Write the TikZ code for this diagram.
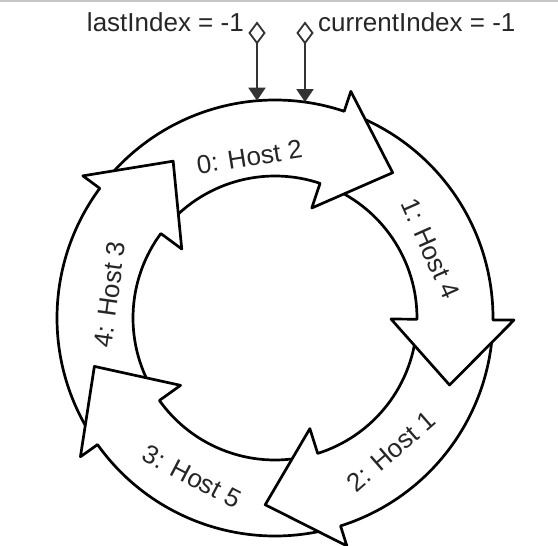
\documentclass[tikz,border=0pt]{standalone}
\usepackage{fontspec}
\setmainfont{Liberation Sans}
\usetikzlibrary{arrows.meta}
\begin{document}
\begin{tikzpicture}[x=1pt,y=1pt, line join=round, line cap=round,
  ring/.style={draw=black, fill=white, line width=2.7pt},
  lbl/.style={font=\fontsize{26}{30}\selectfont, inner sep=0pt, text=black!85},
  idx/.style={font=\fontsize{26}{30}\selectfont, inner sep=0pt, text=black!85},
  dia/.style={draw=black!80, fill=white, line width=1.8pt, line join=miter},
  ptr/.style={draw=black!80, line width=1.8pt, -{Triangle[length=13pt,width=17pt]}}]
\useasboundingbox (-275,-228) rectangle (283,318);
\fill[white] (-275,-228) rectangle (283,318);
\draw[gray!45, line width=2.5pt] (-275,317) -- (283,317);
% shafts
\foreach \k in {0,...,4}{
  \pgfmathsetmacro\T{139.5-72*\k}
  \pgfmathsetmacro\E{68.5-72*\k}
  \draw[ring] (\T:218pt) arc[start angle=\T, end angle=\E, radius=218pt] -- (\E:142pt) arc[start angle=\E, end angle=\T, radius=142pt] -- cycle;
}
% heads
\foreach \k in {0,...,4}{
  \pgfmathsetmacro\B{71.5-72*\k}
  \pgfmathsetmacro\P{51-72*\k}
  \fill[white] (\B:239pt) -- (\P:187pt) -- (\B:116pt) -- cycle;
  \draw[ring, fill=none] (\B:218pt) -- (\B:239pt) -- (\P:187pt) -- (\B:116pt) -- (\B:142pt);
}
% labels
\node[lbl, rotate=9] (h0) at (99:163pt) {0: Host 2};
\node[lbl, rotate=-66] (h1) at (24:170pt) {1: Host 4};
\node[lbl, rotate=41] (h2) at (-49:177pt) {2: Host 1};
\node[lbl, rotate=-27.6] (h3) at (-117.6:179pt) {3: Host 5};
\node[lbl, rotate=82] (h4) at (172:167pt) {4: Host 3};
% pointers
\node[idx, anchor=base east] (li) at (-31,286) {lastIndex = -1};
\node[idx, anchor=base west] (ci) at (43,286) {currentIndex = -1};
\coordinate (ld) at (-18,275);
\coordinate (cd) at (30,275);
\draw[dia] (ld) -- ++(7.5,10) -- ++(-7.5,10) -- ++(-7.5,-10) -- cycle;
\draw[dia] (cd) -- ++(7.5,10) -- ++(-7.5,10) -- ++(-7.5,-10) -- cycle;
\coordinate (le) at (-18,217.3);
\coordinate (ce) at (30,215.9);
\draw[ptr] (ld) -- (le);
\draw[ptr] (cd) -- (ce);
\end{tikzpicture}
\end{document}
